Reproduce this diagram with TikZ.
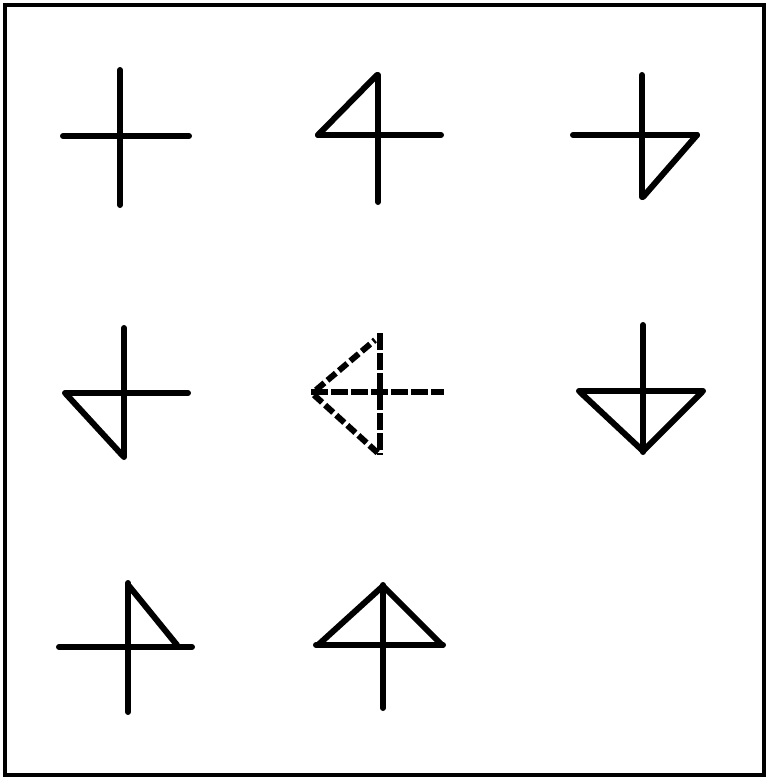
\documentclass[tikz,border=0pt]{standalone}
\begin{document}
\begin{tikzpicture}[x=1pt,y=-1pt,
  stroke/.style={line width=6pt, line cap=round, line join=round},
  dstroke/.style={line width=6pt, line cap=butt, line join=round, dash pattern=on 11pt off 4pt},
  dcross/.style={line width=6pt, line cap=butt, dash pattern=on 17pt off 3pt},
  frame/.style={line width=4.5pt}]
\useasboundingbox (0,0) rectangle (769,780);
\fill[white] (0,0) rectangle (769,780);
\draw[frame] (5,5) rectangle (764,775);
% Figure 1: plain cross
\draw[stroke] (120,70) -- (120,205);
\draw[stroke] (63,136) -- (189,136);
% Figure 2: upper-left triangle
\draw[stroke] (378,75) -- (378,202);
\draw[stroke] (318,135) -- (441,135);
\draw[stroke] (318,135) -- (377,75);
% Figure 3: lower-right triangle
\draw[stroke] (642,75) -- (642,197);
\draw[stroke] (573,135) -- (697,135);
\draw[stroke] (697,135) -- (643,197);
% Figure 4: lower-left triangle
\draw[stroke] (124,328) -- (124,457);
\draw[stroke] (65,393) -- (188,393);
\draw[stroke] (66,394) -- (123,456);
% Figure 5: dashed left-pointing triangle
\draw[dcross] (380,333) -- (380,455);
\draw[dcross] (311,392) -- (444,392);
\draw[dstroke] (316,390) -- (375,340);
\draw[dstroke] (314,395) -- (380,455);
% Figure 6: downward triangle
\draw[stroke] (643,325) -- (643,452);
\draw[stroke] (579,391) -- (703,391);
\draw[stroke] (580,392) -- (643,451) -- (702,392);
% Figure 7: upper-right triangle
\draw[stroke] (128,583) -- (128,712);
\draw[stroke] (59,647) -- (192,647);
\draw[stroke] (129,586) -- (177,645);
% Figure 8: upward triangle
\draw[stroke] (383,585) -- (383,708);
\draw[stroke] (316,645) -- (443,645);
\draw[stroke] (318,645) -- (383,586) -- (442,645);
\end{tikzpicture}
\end{document}
